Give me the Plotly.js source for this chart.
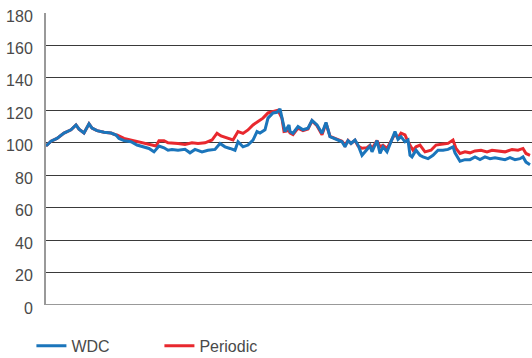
<!DOCTYPE html>
<html>
<head>
<meta charset="utf-8">
<script src="https://cdn.plot.ly/plotly-3.0.1.min.js"></script>
<style>html,body{margin:0;padding:0;background:#fff;}#chart{width:532px;height:358px;}</style>
</head>
<body>
<div id="chart"></div>
<script>
// Time index (trading-day position along the x axis) and index values
const wdcT = [0,1,5,11,18,25,30,33,38,43,46,51,58,65,70,73,78,85,91,98,103,108,113,118,122,126,132,139,144,149,156,162,169,174,179,184,189,192,197,202,207,211,214,219,222,227,231,234,237,239,243,244,247,252,257,262,266,271,276,280,284,291,296,299,302,305,309,312,316,321,324,326,331,334,337,341,346,349,352,355,359,362,364,366,370,374,377,382,387,392,397,402,407,409,414,419,424,429,434,439,444,449,454,459,464,469,474,477,480,484];
const wdcV = [98.5,98.6,101,102.7,106,108,111,108.4,106,111.7,109,107.5,106.5,106,104.8,102.7,101.3,100.6,98.6,97.5,96.5,94.4,98,96.9,95.4,95.9,95.4,96,93.8,95.9,94.4,95.4,95.9,99.6,97.5,96.5,95.4,100.6,97.5,98.6,101.7,106.9,106,108,115.2,118.4,118.8,120.9,112.1,106.9,111,106.9,105.9,110,108,109,113.8,111,105.9,112.5,103.8,102.1,100.6,97.5,101.3,99.6,101.7,98.6,92.3,95.9,98,94.4,101.3,93.4,97.5,94.4,101.7,106.9,102.1,103.8,100.6,101.7,92.3,91.3,95.4,92.3,91.3,90.2,92.3,95.4,95.4,95.9,97.5,93.8,88.6,89.6,89.6,91.3,89.6,91.3,90.2,90.8,90.2,89.6,90.8,89.6,90.2,91.3,88.1,86.5];

const perT = [0,1,5,11,18,25,30,33,38,43,46,51,58,65,70,71,78,85,91,98,105,110,113,118,122,126,132,139,146,152,159,166,171,175,182,187,192,197,202,207,212,217,222,227,232,236,238,243,244,247,252,257,262,266,271,276,280,284,291,296,299,302,305,309,312,316,321,324,326,331,334,337,341,346,349,352,355,359,362,367,370,374,379,385,390,397,402,407,410,414,419,424,429,435,441,446,452,459,466,472,477,480,484];
const perV = [98.5,98.6,101,102.7,106,108,111,108.4,106,111.7,109,107.5,106.5,106,104.8,104.8,102.7,101.7,100.6,100,99,98,101.3,101.3,100,100,99.6,99,100,99.6,100,101.7,105.9,104.2,102.7,101.7,106.9,105.8,107.9,111,113.1,115.2,118.4,119.4,120,115,106.9,107.5,106,105,109,107.5,108.5,113.5,110.5,105,112,104,102.5,101,98.5,101.5,99.6,101.5,98,96.6,97,98.5,96.5,101.3,97.5,98.5,96.5,101.7,105.5,103,105.9,104.8,100.6,95.4,97.5,98.6,94.4,95.4,98.6,99.2,99.6,101.7,96.5,93.4,94.4,93.8,95,95.4,94.4,95.4,95,94.4,95.9,95.4,96.5,93.4,92.3];

const seriesNames = ['WDC', 'Periodic'];
const yTicks = [0,20,40,60,80,100,120,140,160,180];

const traces = [
  {x: wdcT, y: wdcV, name: seriesNames[0], type: 'scatter', mode: 'lines',
   line: {color: '#1b75bb', width: 3}},
  {x: perT, y: perV, name: seriesNames[1], type: 'scatter', mode: 'lines',
   line: {color: '#e8282e', width: 3}}
];
// draw periodic below WDC
const data = [traces[1], traces[0]];
data[0].legendrank = 2; data[1].legendrank = 1;

const layout = {
  width: 532, height: 358,
  margin: {l: 46, r: 0, t: 13, b: 53, autoexpand: false},
  paper_bgcolor: '#fff', plot_bgcolor: '#fff',
  font: {family: 'Liberation Sans, Arial, sans-serif', size: 16, color: '#4a4a4a'},
  showlegend: true,
  legend: {orientation: 'h', x: -0.03, xanchor: 'left', y: -0.14, yanchor: 'middle',
           traceorder: 'normal', entrywidth: 83, entrywidthmode: 'pixels',
           font: {size: 16, color: '#4a4a4a'}},
  xaxis: {range: [0, 486], showgrid: false, zeroline: false, showticklabels: false,
          showline: false, ticks: ''},
  yaxis: {range: [0, 180], tickvals: yTicks, ticktext: yTicks.map(String),
          showgrid: true, gridcolor: '#3a3a3a', gridwidth: 1, zeroline: false,
          showline: true, linecolor: '#999', linewidth: 2, ticks: '',
          ticklabelstandoff: 8, ticklabelshift: 3},
  shapes: [
    {type: 'line', xref: 'paper', yref: 'y', x0: 0, x1: 1, y0: 0, y1: 0,
     line: {color: '#999', width: 2}}
  ]
};

Plotly.newPlot('chart', data, layout, {staticPlot: true, displayModeBar: false});
</script>
</body>
</html>
